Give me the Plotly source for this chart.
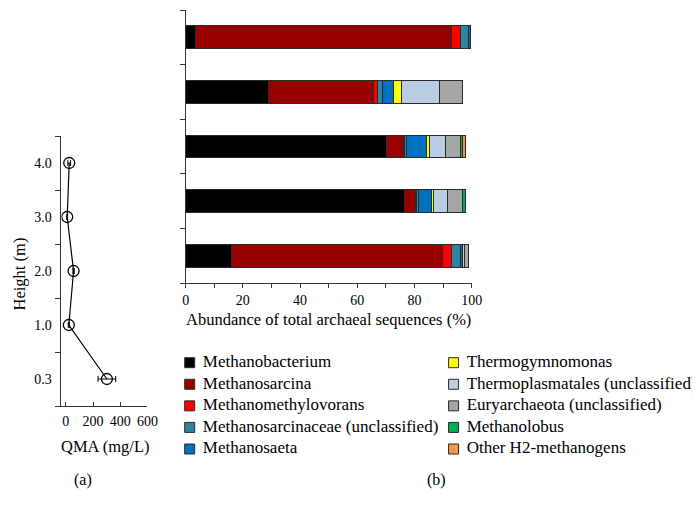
import plotly.graph_objects as go

# ---------------- data ----------------
sample_labels = ["4.0", "3.0", "2.0", "1.0", "0.3"]   # top to bottom
sample_pos = [5, 4, 3, 2, 1]

taxa = ["Methanobacterium", "Methanosarcina", "Methanomethylovorans",
        "Methanosarcinaceae (unclassified)", "Methanosaeta",
        "Thermogymnomonas", "Thermoplasmatales (unclassified)",
        "Euryarchaeota (unclassified)", "Methanolobus", "Other H2-methanogens"]
colors = ["#000000", "#990000", "#FF0000", "#31849B", "#0070C0",
          "#FFFF00", "#B9CDE5", "#A6A6A6", "#00B050", "#F79646"]

# abundance (%) per taxon, for samples in order 4.0, 3.0, 2.0, 1.0, 0.3
methanobacterium = [3.5, 28.8, 70.3, 76.6, 16.1]
methanosarcina = [89.3, 36.9, 5.9, 3.7, 73.8]
methanomethylovorans = [3.4, 1.2, 0.3, 0.3, 3.2]
methanosarcinaceae = [2.8, 1.9, 0.7, 0.7, 2.9]
methanosaeta = [0.5, 3.7, 7.1, 4.5, 0.9]
thermogymnomonas = [0.0, 3.1, 1.1, 1.0, 0.0]
thermoplasmatales = [0.0, 13.3, 5.3, 4.9, 0.5]
euryarchaeota = [0.0, 8.0, 5.3, 5.0, 1.6]
methanolobus = [0.0, 0.0, 0.7, 1.2, 0.0]
other_h2 = [0.0, 0.0, 1.2, 0.0, 0.0]
abundances = [methanobacterium, methanosarcina, methanomethylovorans,
              methanosarcinaceae, methanosaeta, thermogymnomonas,
              thermoplasmatales, euryarchaeota, methanolobus, other_h2]

# QMA profile
height_labels = ["0.3", "1.0", "2.0", "3.0", "4.0"]
height_pos = [1, 2, 3, 4, 5]
qma = [302, 22, 57, 10, 25]
qma_err = [65, 4, 5, 3, 10]

FONT = "Liberation Serif"
W, H = 700, 514
OFF = 8        # page body margin of the default html wrapper
SX, X0 = 0.973, 2.8   # horizontal correction measured on the rendered page


def px(x):
    return ((x - X0) / SX - OFF) / W


def py(y):
    return 1 - (y - OFF) / H


fig = go.Figure()

for i, (name, vals, col) in enumerate(zip(taxa, abundances, colors)):
    fig.add_trace(go.Bar(
        x=vals, y=sample_pos, orientation="h", name=name,
        marker=dict(color=col, line=dict(color="#2a2a2a", width=1)),
        width=0.42, xaxis="x2", yaxis="y2", showlegend=False,
        hoverinfo="x+name",
    ))

fig.add_trace(go.Scatter(
    x=qma, y=height_pos, mode="lines+markers",
    line=dict(color="black", width=1.2),
    marker=dict(symbol="circle-open", size=11, color="black", line=dict(width=1.3)),
    error_x=dict(type="data", array=qma_err, color="black", thickness=1, width=3),
    showlegend=False, xaxis="x", yaxis="y",
))

# legend drawn as a key: two columns of five entries
key_col = [i // 5 for i in range(len(taxa))]
key_row = [i % 5 for i in range(len(taxa))]
fig.add_trace(go.Scatter(
    x=key_col, y=key_row, mode="markers",
    marker=dict(symbol="square", size=10, color=colors, line=dict(color="#2a2a2a", width=1)),
    showlegend=False, hoverinfo="skip", cliponaxis=False,
    xaxis="x3", yaxis="y3",
))
fig.add_trace(go.Scatter(
    x=key_col, y=key_row, mode="text", text=taxa,
    textposition="middle right",
    textfont=dict(family=FONT, size=17, color="black"),
    showlegend=False, hoverinfo="skip", cliponaxis=False,
    xaxis="x4", yaxis="y3",
))

axis_common = dict(showline=True, linecolor="#333", linewidth=1, showgrid=False,
                   zeroline=False, tickcolor="#333",
                   tickfont=dict(family=FONT, size=14, color="black"))
hidden = dict(visible=False, showgrid=False, zeroline=False, fixedrange=True)

fig.update_layout(
    width=W, height=H, autosize=False,
    margin=dict(l=0, r=0, t=0, b=0),
    paper_bgcolor="white", plot_bgcolor="rgba(0,0,0,0)",
    barmode="stack",
    font=dict(family=FONT, size=16.5, color="black"),
    # left panel
    xaxis=dict(domain=[px(60.7), px(146)], range=[-32, 600], anchor="y",
               tickvals=[0, 200, 400, 600], ticks="inside", ticklen=4,
               ticklabelstandoff=2, **axis_common),
    yaxis=dict(domain=[py(406), py(136)], range=[0.5, 5.5], anchor="x",
               tickvals=height_pos, ticktext=height_labels, ticks="", ticklen=0,
               ticklabelstandoff=6,
               minor=dict(tick0=0.5, dtick=1, ticks="outside", ticklen=5, tickcolor="#333"),
               **axis_common),
    # right panel
    xaxis2=dict(domain=[px(184), px(468)], range=[0, 100], anchor="y2",
                dtick=20, ticks="outside", ticklen=4,
                minor=dict(dtick=10, ticks="outside", ticklen=4, tickcolor="#333"),
                title=dict(text="Abundance of total archaeal sequences (%)",
                           font=dict(family=FONT, size=16.5), standoff=6),
                **axis_common),
    yaxis2=dict(domain=[py(283), py(10)], range=[0.5, 5.5], anchor="x2",
                tickvals=[0.5, 1.5, 2.5, 3.5, 4.5, 5.5], showticklabels=False,
                ticks="outside", ticklen=5, **axis_common),
    # key axes
    xaxis3=dict(domain=[px(188), px(450)], range=[0, 1], anchor="y3", **hidden),
    xaxis4=dict(domain=[px(201), px(463)], range=[0, 1], anchor="y3", **hidden),
    yaxis3=dict(domain=[py(449), py(362.7)], range=[4, 0], anchor="x3", **hidden),
    annotations=[
        dict(text="Height (m)", x=px(19), y=py(274), xref="paper", yref="paper",
             xanchor="center", yanchor="middle",
             textangle=-90, showarrow=False, font=dict(family=FONT, size=16.5)),
        dict(text="QMA (mg/L)", x=px(104), y=py(446), xref="paper", yref="paper",
             xanchor="center", yanchor="middle",
             showarrow=False, font=dict(family=FONT, size=16.5)),
        dict(text="(a)", x=px(82), y=py(480), xref="paper", yref="paper",
             xanchor="center", yanchor="middle",
             showarrow=False, font=dict(family=FONT, size=16)),
        dict(text="(b)", x=px(433), y=py(480), xref="paper", yref="paper",
             xanchor="center", yanchor="middle",
             showarrow=False, font=dict(family=FONT, size=16)),
    ],
)

fig.write_html("out.html", config={"displayModeBar": False})
